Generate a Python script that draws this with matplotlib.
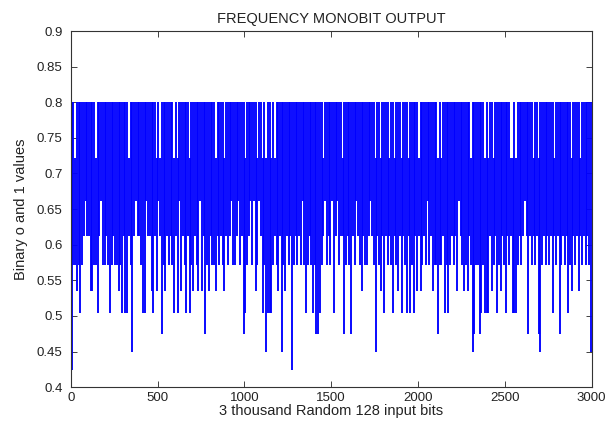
import numpy as np
import matplotlib
matplotlib.use("Agg")
import matplotlib.pyplot as plt

# Discrete output levels observed in the chart (code digit -> value)
levels = [0.8, 0.722, 0.662, 0.612, 0.571, 0.535, 0.504, 0.475, 0.449, 0.424]

# Minimum level reached in each 10-sample bin (one digit per bin)
low_codes = [
    "9445464323" "3554463244" "3464344546",
    "3663483233" "4662335635" "2374534346",
    "3625346364" "5345253745" "3445343453",
    "4324432437" "6432425423" "6486664345",
    "3845343943" "4342464346" "4776432434",
    "2632433743" "4734234534" "4323483453",
    "6343463453" "6346364635" "3543424354",
    "4744364643" "4352345453" "4874476466",
    "6354364534" "6343666434" "3237343437",
    "8434343634" "3743436453" "4353434348",
]

# Bins whose maximum only reaches the second level (white gaps at the top)
top_gap_bins = [2, 14, 33, 49, 51, 59, 61, 68, 83, 88, 100, 107, 110, 112, 115,
                117, 145, 156, 175, 178, 183, 186, 190, 194, 200, 211, 213, 230,
                238, 240, 243, 253, 254, 256, 266, 269, 278, 288, 293]

bin_width = 10
title = "FREQUENCY MONOBIT OUTPUT"
xlabel = "3 thousand Random 128 input bits"
ylabel = "Binary o and 1 values"
xticks = [0, 500, 1000, 1500, 2000, 2500, 3000]
yticks = [0.4, 0.45, 0.5, 0.55, 0.6, 0.65, 0.7, 0.75, 0.8, 0.85, 0.9]

codes = "".join(low_codes)
xc = np.array([i * bin_width + bin_width / 2 for i in range(len(codes))])
lows = np.array([levels[int(c)] for c in codes])
highs = np.array([levels[1] if i in top_gap_bins else levels[0] for i in range(len(codes))])

plt.rcParams['font.family'] = ['Liberation Sans', 'DejaVu Sans']
fig = plt.figure(figsize=(6.05, 4.25), dpi=100)
ax = fig.add_axes([0.117, 0.089, 0.861, 0.838])
ax.vlines(xc, lows, highs, color='#0000ff', linewidth=1.35)
ax.set_xlim(0, 3000)
ax.set_ylim(0.4, 0.9)
ax.set_xticks(xticks)
ax.set_xticklabels([str(t) for t in xticks])
ax.set_yticks(yticks)
ax.set_yticklabels([f"{t:g}" for t in yticks])
ax.tick_params(direction='in', top=True, right=True, labelsize=9.5, length=4,
               width=0.6, colors='#222222')
ax.tick_params(axis='y', pad=6)
for s in ax.spines.values():
    s.set_linewidth(0.8)
    s.set_color('#333333')
ax.set_title(title, fontsize=10.5, pad=6, color='#222222')
ax.set_xlabel(xlabel, fontsize=10.5, labelpad=0, color='#222222')
ax.set_ylabel(ylabel, fontsize=10.5, labelpad=6, color='#222222')
fig.savefig("out.png", dpi=100)
